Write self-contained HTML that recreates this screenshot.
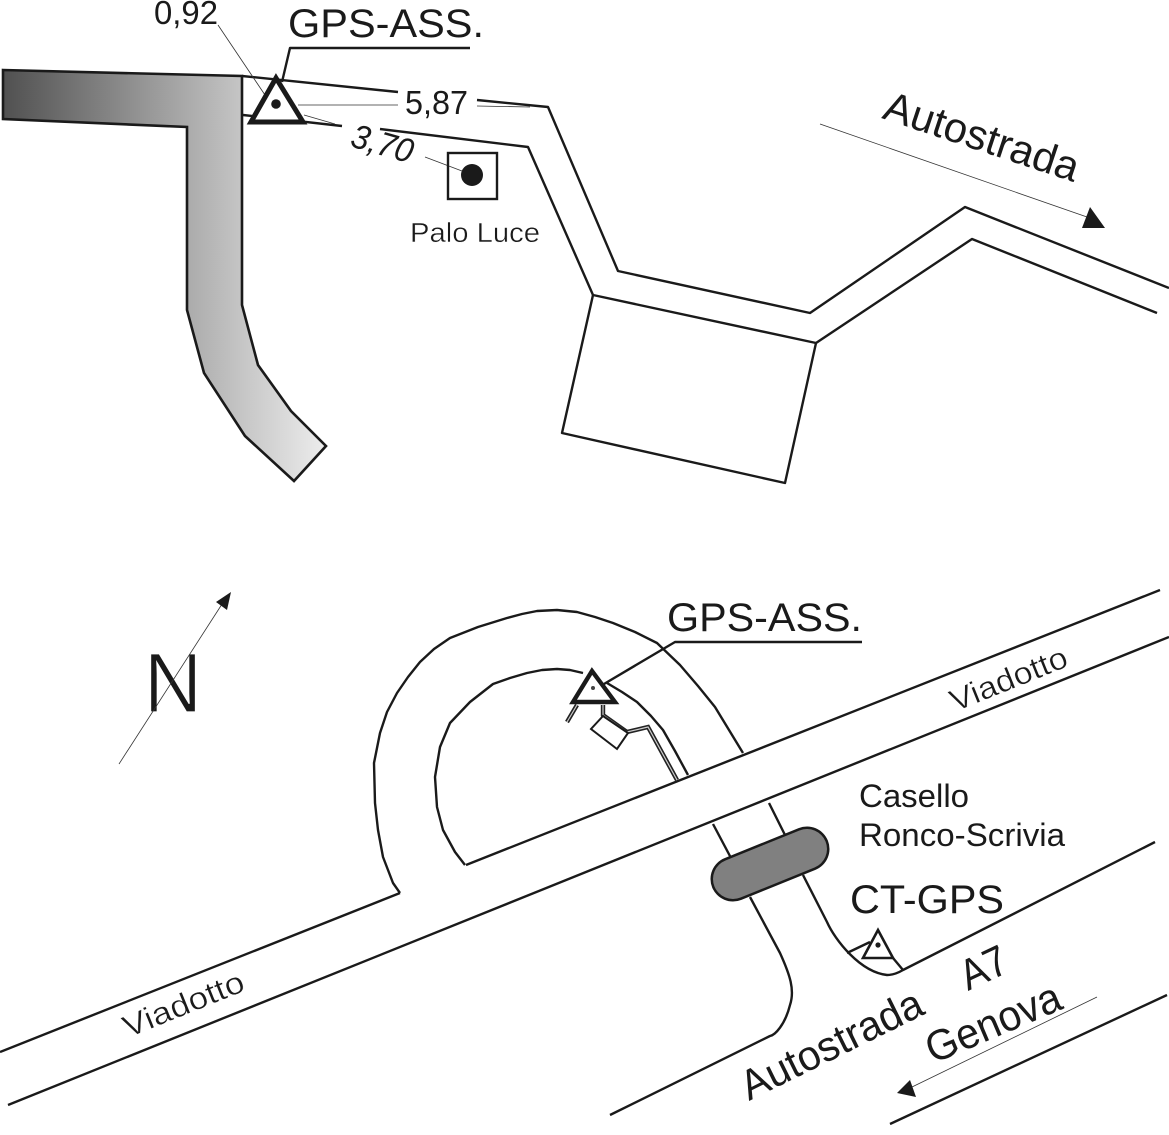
<!DOCTYPE html>
<html><head><meta charset="utf-8"><style>
html,body{margin:0;padding:0;background:#fff}
svg{display:block}
text{font-family:"Liberation Sans",sans-serif;fill:#1a1a1a}
.l{fill:none;stroke:#1a1a1a;stroke-width:2.4;stroke-linejoin:round}
.t{fill:none;stroke:#333;stroke-width:.8}
.thin{stroke:#fff;stroke-width:.4}
</style></head><body>
<svg width="1169" height="1135" viewBox="0 0 1169 1135" xmlns="http://www.w3.org/2000/svg">
<defs><linearGradient id="g" gradientUnits="userSpaceOnUse" x1="3" y1="0" x2="326" y2="0">
<stop offset="0" stop-color="#505050"/><stop offset=".73" stop-color="#c4c4c4"/><stop offset="1" stop-color="#ededed"/></linearGradient></defs>

<path d="M3 70L242 76V305L258 365L291 411L326 446L294 481L245 436L204 373L187 310V127L3 119Z" fill="url(#g)" stroke="#1a1a1a" stroke-width="2.6"/>
<path class="l" d="M242 76L398 92M477 100L548 107L618 271L810 313L965 207L1169 288"/>
<path class="l" d="M243 115L342 126M380 129L528 147L593 295L816 343L972 239L1157 313"/>
<path class="l" d="M593 295L562 433L785 483L816 343"/>
<path class="t" d="M218 25L265 95M298 105H398M477 106L530 107M304 115L335 124M425 157L462 171"/>
<path class="l" d="M282 82L290 48H470" stroke-width="2.6"/>
<path d="M276 78L251 122H303Z" fill="#fff" stroke="#1a1a1a" stroke-width="5"/>
<circle cx="276" cy="104" r="4.8" fill="#1a1a1a"/>
<rect x="448" y="153" width="49" height="46" fill="none" stroke="#1a1a1a" stroke-width="2.4"/>
<circle cx="472" cy="175" r="11" fill="#1a1a1a"/>
<text x="154" y="24" font-size="33" textLength="64" lengthAdjust="spacingAndGlyphs">0,92</text>
<text x="288" y="37" font-size="40" textLength="196" lengthAdjust="spacingAndGlyphs">GPS-ASS.</text>
<text x="405" y="114" font-size="33" textLength="63" lengthAdjust="spacingAndGlyphs">5,87</text>
<text transform="translate(349 146) rotate(16)" font-size="34" font-style="italic" textLength="63" lengthAdjust="spacingAndGlyphs">3,70</text>
<text class="thin" x="410" y="242" font-size="28" textLength="130" lengthAdjust="spacingAndGlyphs">Palo Luce</text>
<text transform="translate(881 118) rotate(18.4)" font-size="42" textLength="203" lengthAdjust="spacingAndGlyphs">Autostrada</text>
<path class="t" d="M820 124L1087 217"/>
<path d="M1105 228L1090 207L1082 228Z" fill="#1a1a1a"/>

<text class="thin" style="stroke-width:1.2" x="144" y="712" font-size="84" textLength="58" lengthAdjust="spacingAndGlyphs">N</text>
<path d="M119 764L224 601" class="t"/>
<path d="M231 592L216 602L227 610Z" fill="#1a1a1a"/>

<path class="l" d="M1160 590L466 865"/>
<path class="l" d="M1169 637L8 1105"/>
<path class="l" d="M0 1052L400 893"/>
<path class="l" d="M400 893L393 883L383 857L378 830L375 803L374 763L380 733L387 712L397 693L408 677L420 662L434 649L450 638L478 627L507 618L522 614L537 611L557 610L577 612L595 617L613 623L635 632L657 643L680 665L698 686L715 707L743 753"/>
<path class="l" d="M465 865L455 852L443 830L437 807L435 777L440 747L450 723L470 702L493 684L510 678L527 673L542 670L557 669L570 670L583 673M607 683L622 692L637 702L651 716L663 730L675 751L688 775"/>
<path class="l" d="M604 684L675 642H862"/>
<path d="M592 671L573 702H615Z" fill="#fff" stroke="#1a1a1a" stroke-width="4.4"/>
<circle cx="593" cy="688" r="2" fill="#444"/>
<path d="M577 705L567 722M603 705V715L627 732L648 727L677 780" fill="none" stroke="#222" stroke-width="4.4"/>
<path d="M577 705L567 722M603 705V715L627 732L648 727L677 780" fill="none" stroke="#ccc" stroke-width="1.2"/>
<path d="M603 716L628 733L617 749L591 729Z" fill="#fff" stroke="#1a1a1a" stroke-width="2"/>

<path class="l" d="M713 824L731 858M769 803L785 835"/>
<path d="M733 879L807 849" stroke="#1a1a1a" stroke-width="45" stroke-linecap="round"/>
<path d="M733 879L807 849" stroke="#808080" stroke-width="40" stroke-linecap="round"/>
<path class="l" d="M803 875L827 922C835 940 860 972 887 975C893 975 898 973 903 970L1155 842"/>
<path class="l" d="M750 897L780 953C790 975 795 990 790 1005C785 1025 775 1035 770 1036L610 1115"/>
<path class="l" d="M890 1124L1167 995"/>
<path class="l" d="M847 953L870 942M893 958L903 970"/>
<path d="M878 930L863 958H893Z" fill="#fff" stroke="#1a1a1a" stroke-width="2.6"/>
<circle cx="878" cy="945" r="2.6" fill="#1a1a1a"/>

<text x="667" y="631" font-size="40" textLength="195" lengthAdjust="spacingAndGlyphs">GPS-ASS.</text>
<text x="859" y="807" font-size="32" textLength="110" lengthAdjust="spacingAndGlyphs">Casello</text>
<text x="859" y="846" font-size="32" textLength="206" lengthAdjust="spacingAndGlyphs">Ronco-Scrivia</text>
<text x="850" y="913" font-size="40" textLength="154" lengthAdjust="spacingAndGlyphs">CT-GPS</text>
<text class="thin" transform="translate(955 712) rotate(-22)" font-size="31" textLength="124" lengthAdjust="spacingAndGlyphs">Viadotto</text>
<text class="thin" transform="translate(128 1038) rotate(-22)" font-size="31" textLength="128" lengthAdjust="spacingAndGlyphs">Viadotto</text>
<text transform="translate(749 1101) rotate(-26.3)" font-size="42" textLength="198" lengthAdjust="spacingAndGlyphs">Autostrada</text>
<text transform="translate(968 991) rotate(-25)" font-size="43" textLength="48" lengthAdjust="spacingAndGlyphs">A7</text>
<text transform="translate(933 1064) rotate(-23)" font-size="43" textLength="143" lengthAdjust="spacingAndGlyphs">Genova</text>
<path class="t" d="M1097 997L912 1087"/>
<path d="M897 1093L910 1080L916 1097Z" fill="#1a1a1a"/>
</svg>
</body></html>
